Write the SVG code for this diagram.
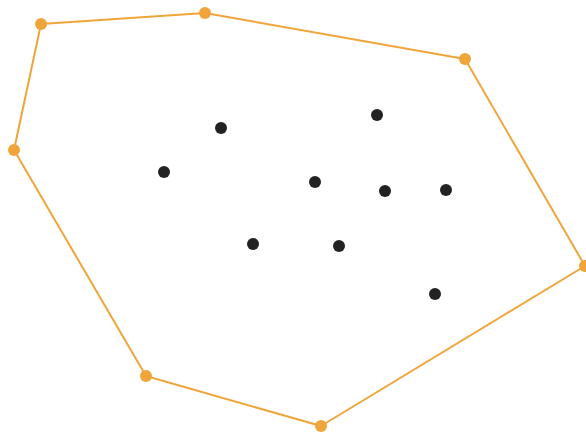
<svg xmlns="http://www.w3.org/2000/svg" width="586" height="435" viewBox="0 0 586 435">
<style>
.hull{fill:none;stroke:#F0A53A;stroke-width:2;stroke-linejoin:round}
.hv{fill:#F0A53A}
.pt{fill:#222222}
</style>
<rect width="586" height="435" fill="#ffffff"/>
<g id="connectors">
<polygon class="hull" points="41,24 205,13 465,59 585,266 321,426 146,376 14,150"/>
</g>
<g id="hull-vertices">
<circle id="h1" class="hv" cx="41" cy="24" r="6"/>
<circle id="h2" class="hv" cx="205" cy="13" r="6"/>
<circle id="h3" class="hv" cx="465" cy="59" r="6"/>
<circle id="h4" class="hv" cx="585" cy="266" r="6"/>
<circle id="h5" class="hv" cx="321" cy="426" r="6"/>
<circle id="h6" class="hv" cx="146" cy="376" r="6"/>
<circle id="h7" class="hv" cx="14" cy="150" r="6"/>
</g>
<g id="points">
<circle id="p1" class="pt" cx="221" cy="128" r="6"/>
<circle id="p2" class="pt" cx="377" cy="115" r="6"/>
<circle id="p3" class="pt" cx="164" cy="172" r="6"/>
<circle id="p4" class="pt" cx="315" cy="182" r="6"/>
<circle id="p5" class="pt" cx="385" cy="191" r="6"/>
<circle id="p6" class="pt" cx="446" cy="190" r="6"/>
<circle id="p7" class="pt" cx="253" cy="244" r="6"/>
<circle id="p8" class="pt" cx="339" cy="246" r="6"/>
<circle id="p9" class="pt" cx="435" cy="294" r="6"/>
</g>
</svg>
